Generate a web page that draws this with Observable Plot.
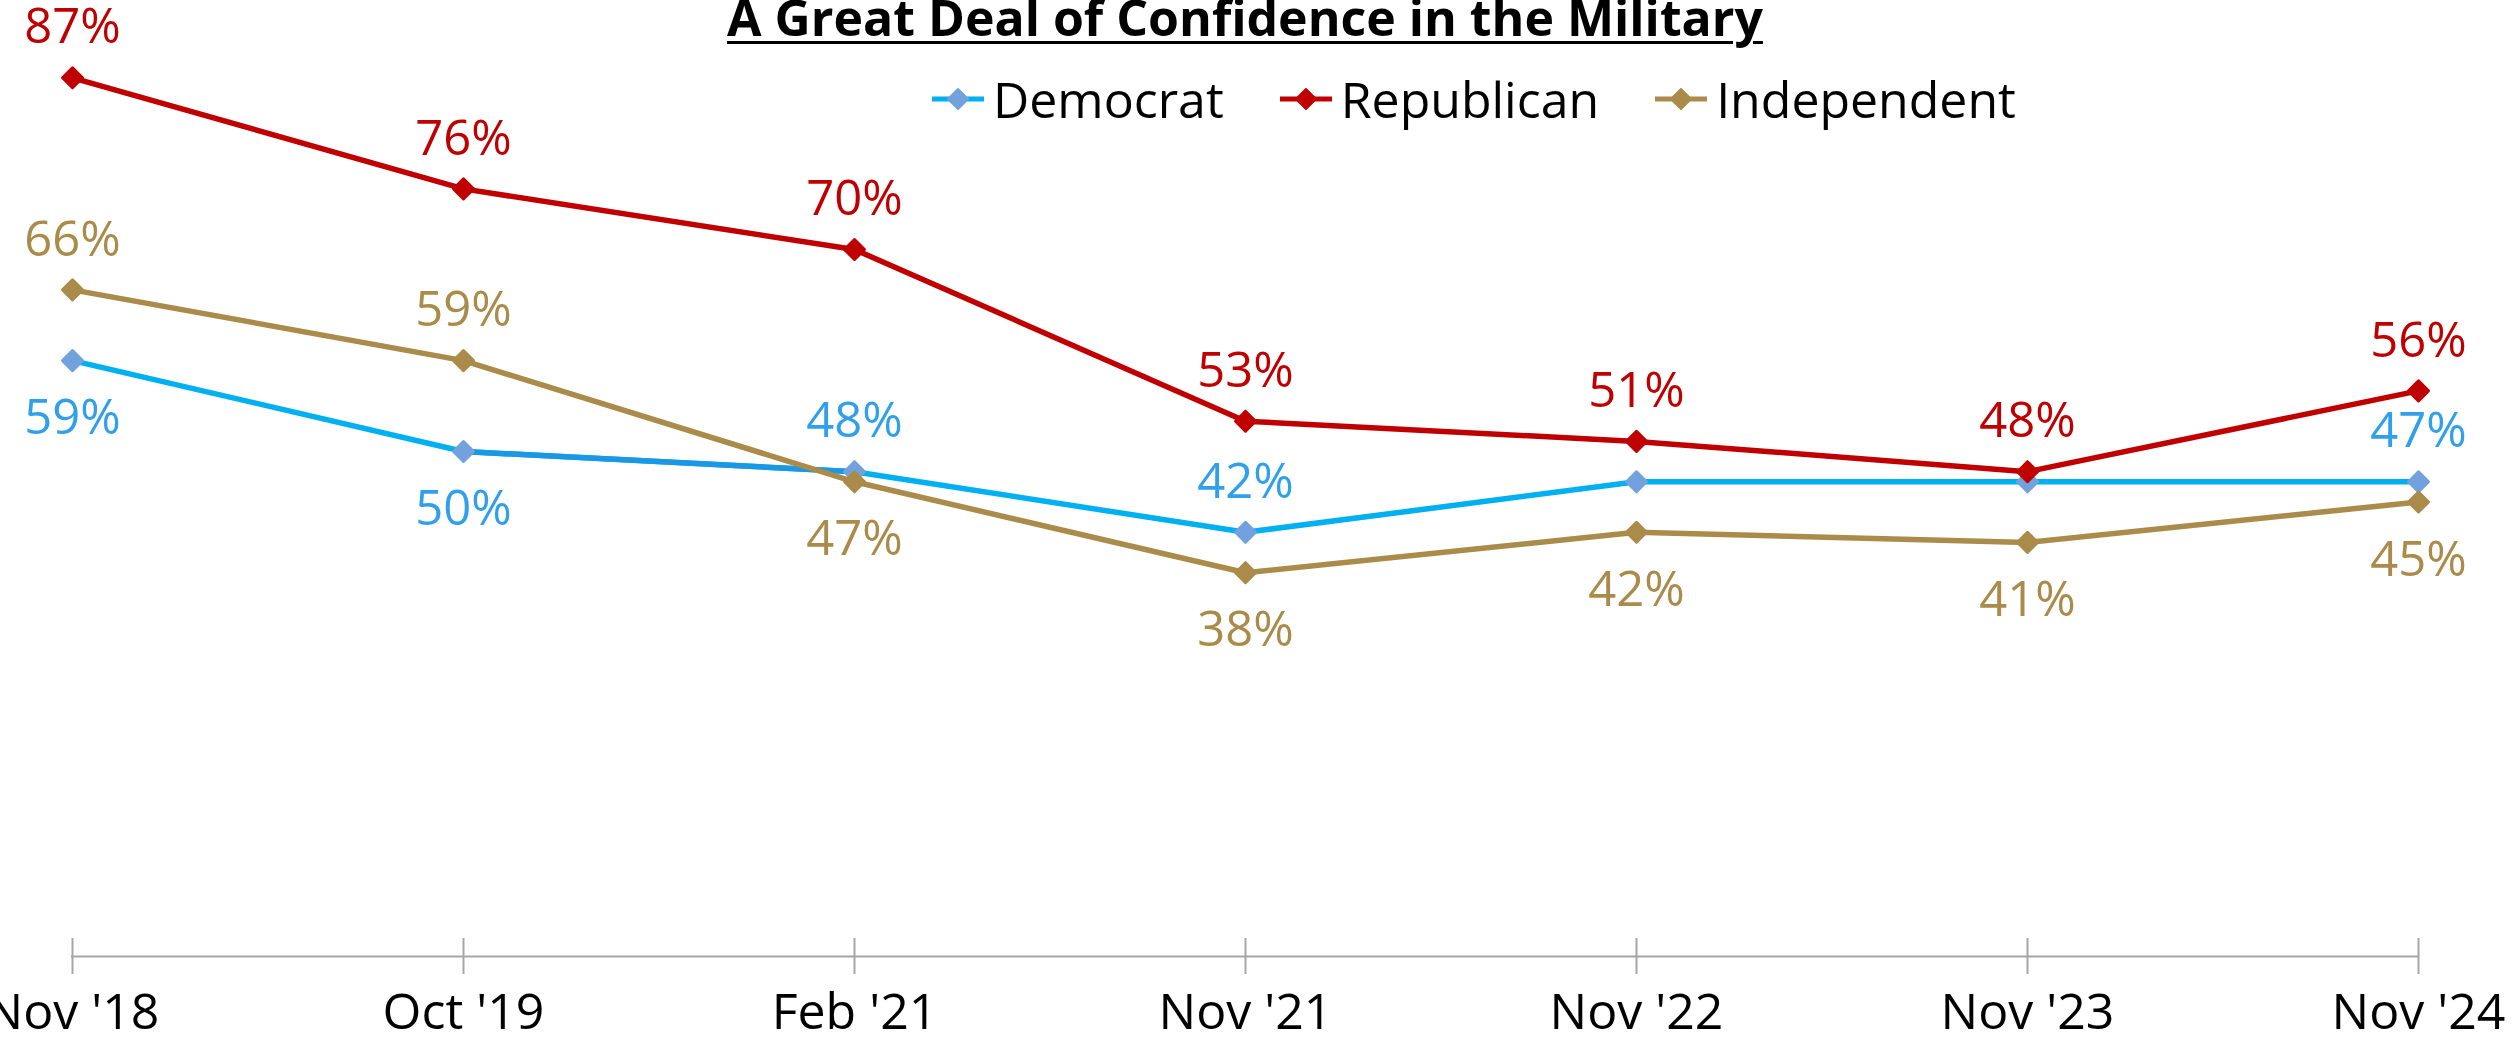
<!DOCTYPE html>
<html>
<head>
<meta charset="utf-8">
<script src="https://cdn.jsdelivr.net/npm/d3@7"></script>
<script src="https://cdn.jsdelivr.net/npm/@observablehq/plot@0.6"></script>
<style>
  html, body { margin: 0; padding: 0; background: #fff; }
  #wrap { position: relative; width: 2514px; height: 1043px; overflow: hidden; font-family: "Open Sans", sans-serif; }
  #chart { position: absolute; left: 0; top: 0; }
  #title { position: absolute; top: 0px; left: 1245px; transform: translateX(-50%); font-weight: 700; font-size: 50px; line-height: 34px; white-space: nowrap; color: #000; text-decoration: underline; text-decoration-thickness: 3px; text-underline-offset: 5px; }
  #legend { position: absolute; top: 74px; left: 931px; display: flex; gap: 55px; }
  .item { display: flex; align-items: center; height: 50px; font-size: 50px; line-height: 50px; color: #000; }
  .item svg { margin-right: 8px; }
</style>
</head>
<body>
<div id="wrap">
  <div id="chart"></div>
  <div id="title">A Great Deal of Confidence in the Military</div>
  <div id="legend"></div>
</div>
<script>
// ---- data ----
const categories = ["Nov '18", "Oct '19", "Feb '21", "Nov '21", "Nov '22", "Nov '23", "Nov '24"];
const seriesNames = ["Democrat", "Republican", "Independent"];
const democrat    = [59, 50, 48, 42, 47, 47, 47];
const republican  = [87, 76, 70, 53, 51, 48, 56];
const independent = [66, 59, 47, 38, 42, 41, 45];
// label placement per point (null = no label)
const democratLabels    = ["below", "below", "above", "above", null, null, "above"];
const republicanLabels  = ["above", "above", "above", "above", "above", "above", "above"];
const independentLabels = ["above", "above", "below", "below", "below", "below", "below"];
const democratAccentSegment = ["Oct '19", "Feb '21"];

// ---- styles ----
const lineColors   = { Democrat: "#00b0f0", Republican: "#c00000", Independent: "#ab8b4a" };
const markerColors = { Democrat: "#72a2de", Republican: "#c00000", Independent: "#ab8b4a" };
const labelColors  = { Democrat: "#30a0ea", Republican: "#c00000", Independent: "#ab8b4a" };
const accentColor = "#1b98e4";

const values = { Democrat: democrat, Republican: republican, Independent: independent };
const labelPos = { Democrat: democratLabels, Republican: republicanLabels, Independent: independentLabels };
const rows = {};
for (const s of seriesNames) {
  rows[s] = categories.map((c, i) => ({ series: s, cat: c, value: values[s][i], pos: labelPos[s][i] }));
}
const a0 = categories.indexOf(democratAccentSegment[0]);
const a1 = categories.indexOf(democratAccentSegment[1]);
const accent = [{ c1: categories[a0], v1: democrat[a0], c2: categories[a1], v2: democrat[a1] }];

const marks = [
  Plot.ruleY([0], { stroke: "#a6a6a6", strokeWidth: 2 }),
  Plot.ruleX(categories, { x: d => d, y1: 0, y2: 0, insetTop: -18, insetBottom: -18, stroke: "#a6a6a6", strokeWidth: 2 }),
  Plot.axisX({ tickSize: 0, tickPadding: 37, fontSize: 50, fill: "#000" })
];
for (const s of seriesNames) {
  marks.push(Plot.line(rows[s], { x: "cat", y: "value", stroke: lineColors[s], strokeWidth: 5.5, strokeLinejoin: "round" }));
  if (s === "Democrat") {
    marks.push(Plot.link(accent, { x1: "c1", y1: "v1", x2: "c2", y2: "v2", stroke: accentColor, strokeWidth: 5.5 }));
  }
  marks.push(Plot.dot(rows[s], { x: "cat", y: "value", symbol: "diamond2", r: 9, fill: markerColors[s], stroke: markerColors[s], strokeWidth: 3, strokeLinejoin: "round" }));
}
for (const s of seriesNames) {
  marks.push(Plot.text(rows[s].filter(d => d.pos === "above"), { x: "cat", y: "value", text: d => d.value + "%", dy: -50, fill: labelColors[s], fontSize: 49 }));
  marks.push(Plot.text(rows[s].filter(d => d.pos === "below"), { x: "cat", y: "value", text: d => d.value + "%", dy: 58, fill: labelColors[s], fontSize: 49 }));
}

const chart = Plot.plot({
  width: 2514,
  height: 1043,
  marginLeft: 71,
  marginRight: 96,
  marginTop: 47,
  marginBottom: 87,
  x: { type: "point", domain: categories, padding: 0 },
  y: { domain: [0, 90], axis: null },
  style: { fontFamily: "'Open Sans', sans-serif", background: "transparent", overflow: "visible" },
  marks
});
document.getElementById("chart").appendChild(chart);

// legend
const legend = document.getElementById("legend");
for (const s of seriesNames) {
  const item = document.createElement("div");
  item.className = "item";
  item.innerHTML = `<svg width="54" height="26" viewBox="0 0 54 26"><line x1="1" y1="13" x2="53" y2="13" stroke="${lineColors[s]}" stroke-width="5"/><path d="M27,3 L37,13 L27,23 L17,13 Z" fill="${markerColors[s]}" stroke="${markerColors[s]}" stroke-width="2" stroke-linejoin="round"/></svg><span>${s}</span>`;
  legend.appendChild(item);
}
</script>
</body>
</html>
